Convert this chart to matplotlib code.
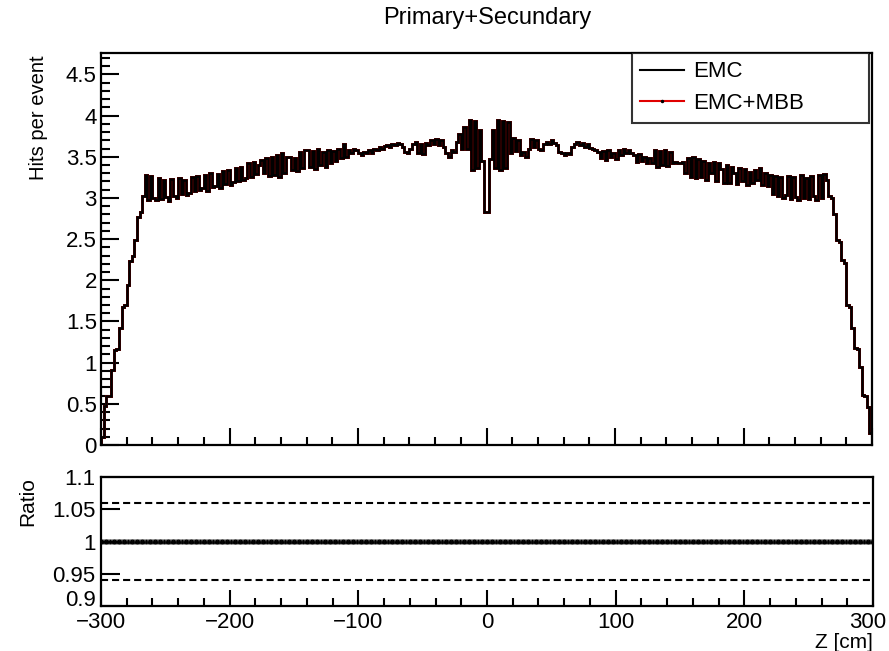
import numpy as np
import matplotlib.pyplot as plt
from matplotlib.lines import Line2D
from matplotlib.transforms import ScaledTranslation
from matplotlib.ticker import MultipleLocator, FixedLocator, FuncFormatter

plt.rcParams['font.family'] = ['Liberation Sans', 'DejaVu Sans']

# Hits per event, 2 cm bins over Z = -300 ... 300 cm
z_min, z_max, n_bins = -300, 300, 300

hits_edge_neg = [0.10, 0.47, 0.59, 0.60, 0.91, 1.15, 1.17, 1.42, 1.68,
                 1.70, 1.94, 2.23, 2.29, 2.49, 2.77, 2.83, 3.02]
hits_neg_outer = [3.28, 2.98, 3.27, 3.00, 2.97, 3.24, 2.99, 3.22, 3.01, 2.96,
                  3.23, 3.02, 3.00, 3.24, 3.05, 3.22, 3.03, 3.06, 3.25, 3.08,
                  3.27, 3.10, 3.12, 3.28, 3.09, 3.30, 3.13, 3.15, 3.29, 3.12,
                  3.33, 3.17, 3.34, 3.16, 3.19, 3.36, 3.20, 3.38, 3.22, 3.24,
                  3.42, 3.26, 3.44, 3.29, 3.40, 3.46, 3.30, 3.48, 3.27, 3.50,
                  3.28, 3.52, 3.25, 3.54, 3.30, 3.50, 3.50, 3.34, 3.48, 3.33]
hits_neg_inner = [3.56, 3.36, 3.58, 3.58, 3.38, 3.57, 3.35, 3.59, 3.40, 3.56,
                  3.37, 3.58, 3.42, 3.57, 3.45, 3.60, 3.48, 3.65, 3.50, 3.58,
                  3.55, 3.60, 3.58, 3.55, 3.52, 3.56, 3.54, 3.58, 3.55, 3.60,
                  3.58, 3.62, 3.60, 3.63, 3.64, 3.62, 3.66, 3.64, 3.67, 3.65,
                  3.62, 3.56, 3.54, 3.60, 3.66, 3.68, 3.55, 3.66, 3.53, 3.67,
                  3.64, 3.70, 3.66, 3.72, 3.64, 3.70, 3.62, 3.55, 3.50, 3.58]
hits_core = [3.56, 3.68, 3.78, 3.60, 3.86, 3.60, 3.95, 3.34, 3.94, 3.36,
             3.83, 3.45, 2.83, 2.83, 3.47, 3.82,
             3.36, 3.95, 3.34, 3.94, 3.36, 3.92, 3.55, 3.73, 3.57, 3.70]
hits_pos_inner = [3.52, 3.56, 3.50, 3.60, 3.72, 3.62, 3.70, 3.60, 3.58, 3.66,
                  3.68, 3.66, 3.70, 3.67, 3.64, 3.56, 3.54, 3.52, 3.55, 3.53,
                  3.62, 3.66, 3.68, 3.64, 3.67, 3.62, 3.65, 3.61, 3.60, 3.58,
                  3.56, 3.48, 3.57, 3.46, 3.58, 3.50, 3.55, 3.47, 3.58, 3.52,
                  3.60, 3.54, 3.58, 3.55, 3.52, 3.44, 3.53, 3.45, 3.50, 3.42,
                  3.48, 3.42, 3.58, 3.38, 3.57, 3.40, 3.58, 3.39, 3.56, 3.42]
hits_pos_outer = [3.44, 3.43, 3.42, 3.44, 3.30, 3.48, 3.26, 3.50, 3.24, 3.47,
                  3.25, 3.45, 3.22, 3.43, 3.30, 3.44, 3.20, 3.42, 3.35, 3.18,
                  3.40, 3.18, 3.38, 3.30, 3.17, 3.36, 3.20, 3.35, 3.16, 3.32,
                  3.18, 3.34, 3.22, 3.36, 3.16, 3.30, 3.14, 3.28, 3.05, 3.27,
                  3.02, 3.26, 3.00, 3.03, 3.27, 2.99, 3.25, 3.01, 2.98, 3.28,
                  3.00, 3.24, 2.99, 3.27, 3.02, 2.98, 3.28, 3.00, 3.29, 3.22]
hits_edge_pos = [3.02, 3.00, 2.80, 2.49, 2.47, 2.25, 2.21, 1.70, 1.68,
                 1.42, 1.18, 1.16, 0.95, 0.61, 0.60, 0.46, 0.15]

hits_emc = np.concatenate([hits_edge_neg, hits_neg_outer, hits_neg_inner,
                           hits_core, hits_pos_inner, hits_pos_outer,
                           hits_edge_pos])
hits_mbb = hits_emc.copy()
ratio_err = 0.0045
ratio_band = [0.94, 1.06]

edges = np.linspace(z_min, z_max, n_bins + 1)
centers = 0.5 * (edges[:-1] + edges[1:])
ratio = hits_mbb / hits_emc

W, H = 889, 651
fig = plt.figure(figsize=(W / 100, H / 100), dpi=100)
ax = fig.add_axes([101 / W, 1 - 445 / H, 771 / W, 392 / H])
axr = fig.add_axes([101 / W, 1 - 606 / H, 772 / W, 129 / H])

red = '#e00000'
ax.stairs(hits_mbb, edges, color=red, lw=2.15, zorder=2)
ax.stairs(hits_emc, edges, color='black', lw=1.9, zorder=3)
ax.set_xlim(z_min, z_max)
ax.set_ylim(0, 4.76)

fmt = FuncFormatter(lambda v, p: f'{v:g}'.replace('-', '\u2212'))

for a in (ax, axr):
    for s in a.spines.values():
        s.set_linewidth(1.6)
    a.tick_params(which='both', direction='in', top=False, right=False,
                  width=1.5, labelsize=16)
    a.xaxis.set_major_locator(MultipleLocator(100))
    a.xaxis.set_minor_locator(MultipleLocator(20))
    a.xaxis.set_major_formatter(fmt)
    a.yaxis.set_major_formatter(fmt)

ax.yaxis.set_major_locator(MultipleLocator(0.5))
ax.yaxis.set_minor_locator(MultipleLocator(0.1))
ax.tick_params(axis='y', which='major', length=13, pad=3)
ax.tick_params(axis='y', which='minor', length=6.5)
ax.tick_params(axis='x', which='major', length=12, labelbottom=False)
ax.tick_params(axis='x', which='minor', length=6)

axr.errorbar(centers, ratio, xerr=1, yerr=ratio_err, fmt='none',
             ecolor='black', elinewidth=1.8, capsize=0)
for lvl in ratio_band:
    axr.axhline(lvl, color='black', lw=1.5, dashes=(3.4, 1.9))
axr.set_xlim(z_min, z_max)
axr.set_ylim(0.9, 1.1)
axr.xaxis.set_major_locator(FixedLocator([-300, -200, -100, 0, 100, 200, 300]))
axr.yaxis.set_major_locator(FixedLocator([0.9, 0.95, 1.0, 1.05, 1.1]))
axr.tick_params(axis='y', which='major', length=13.5, pad=4)
axr.tick_params(axis='x', which='major', length=11.5, pad=4)
axr.tick_params(axis='x', which='minor', length=5.8)
# lowest ratio label sits a little above its tick
axr.yaxis.get_major_ticks()[0].label1.set_va('baseline')
# keep the last Z label inside the canvas
last = axr.xaxis.get_major_ticks()[-1].label1
last.set_transform(last.get_transform()
                   + ScaledTranslation(-0.05, 0, fig.dpi_scale_trans))

handles = [Line2D([], [], color='black', lw=1.5),
           Line2D([], [], color=red, lw=1.5, marker='.', ms=3,
                  mfc='black', mec='black')]
leg = ax.legend(handles, ['EMC', 'EMC+MBB'], loc='upper left',
                bbox_to_anchor=(632 / W, 1 - 122 / H, 237 / W, 69 / H),
                bbox_transform=fig.transFigure, mode='expand',
                borderaxespad=0, fancybox=False, fontsize=16, numpoints=1,
                handlelength=1.95, handletextpad=0.4, labelspacing=0.48,
                borderpad=0.38)
leg.get_frame().set_edgecolor('black')
leg.get_frame().set_linewidth(1.5)

fig.text(487 / W, 1 - 18 / H, 'Primary+Secundary', ha='center', va='center',
         fontsize=17)
fig.text(38 / W, 1 - 55 / H, 'Hits per event', ha='center', va='top',
         rotation=90, fontsize=14.5)
fig.text(28 / W, 1 - 477 / H, 'Ratio', ha='center', va='top',
         rotation=90, fontsize=15)
fig.text(873 / W, 1 - 633 / H, 'Z [cm]', ha='right', va='top', fontsize=15)

fig.savefig('out.png', dpi=100)
